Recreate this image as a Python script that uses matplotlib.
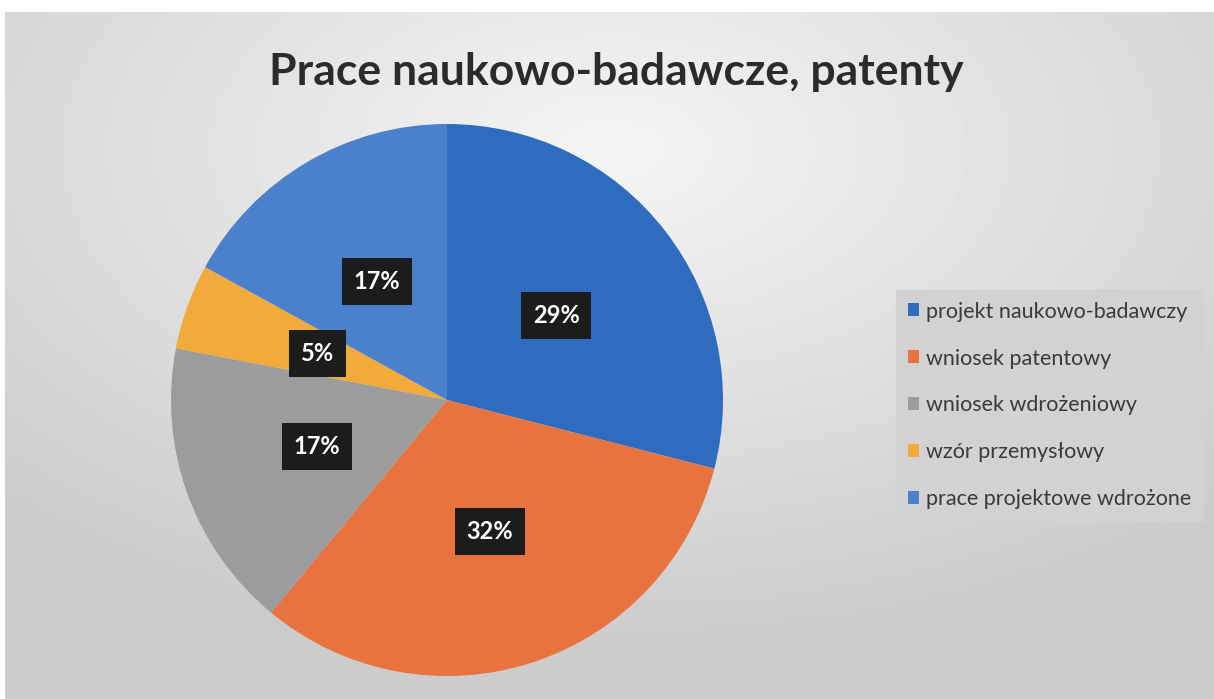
import numpy as np
import matplotlib.pyplot as plt

# Données
categories = ['projekt naukowo-badawczy', 'wniosek patentowy',
              'wniosek wdrożeniowy', 'wzór przemysłowy',
              'prace projektowe wdrożone']
valeurs = [29, 32, 17, 5, 17]
couleurs = ['#2f6cc0', '#e8733f', '#9c9c9c', '#f2aa3a', '#4a80cc']

plt.rcParams['font.family'] = ['Lato', 'DejaVu Sans']

fig = plt.figure(figsize=(12.14, 6.99), dpi=100)
fig.patch.set_facecolor('white')

# Fond dégradé
bg = fig.add_axes([0.004, 0, 0.996, 0.983])
yy, xx = np.mgrid[0:1:200j, 0:1:350j]
d = np.sqrt(((xx - 0.5) / 0.9) ** 2 + ((yy - 0.8) / 0.9) ** 2)
grad = np.clip(0.96 - 0.2 * d, 0.8, 0.96)
bg.imshow(grad, cmap='gray', vmin=0, vmax=1, aspect='auto',
          extent=[0, 1, 0, 1], origin='lower')
bg.set_xticks([])
bg.set_yticks([])
for s in bg.spines.values():
    s.set_visible(False)

# Camembert
w, h = 552 / 1214, 552 / 699
ax = fig.add_axes([447 / 1214 - w / 2, 1 - 400 / 699 - h / 2, w, h])
wedges, _, autotexts = ax.pie(
    valeurs, colors=couleurs, startangle=90, counterclock=False,
    autopct='%1.0f%%', pctdistance=0.5,
    wedgeprops=dict(linewidth=0))
for t in autotexts:
    t.set_color('white')
    t.set_fontsize(17)
    t.set_fontweight('bold')
    t.set_bbox(dict(boxstyle='square,pad=0.5', facecolor='#1c1c1c',
                    edgecolor='none'))
ax.set_xlim(-1, 1)
ax.set_ylim(-1, 1)
ax.set_aspect('equal')

fig.text(0.508, 0.897, 'Prace naukowo-badawcze, patenty',
         ha='center', va='center', fontsize=32, fontweight='bold',
         color='#2b2b2b')

# Légende
leg = fig.legend(wedges, categories, loc='center left',
                 bbox_to_anchor=(0.729, 0.42), frameon=True,
                 fontsize=15.5, handlelength=0.55, handleheight=0.55,
                 handletextpad=0.3, labelspacing=1.25,
                 borderpad=0.55, fancybox=False)
leg.get_frame().set_facecolor('#d2d2d2')
leg.get_frame().set_edgecolor('#d2d2d2')
leg.get_frame().set_alpha(1)
for t in leg.get_texts():
    t.set_color('#3a3a3a')

plt.savefig('out.png', dpi=100)
